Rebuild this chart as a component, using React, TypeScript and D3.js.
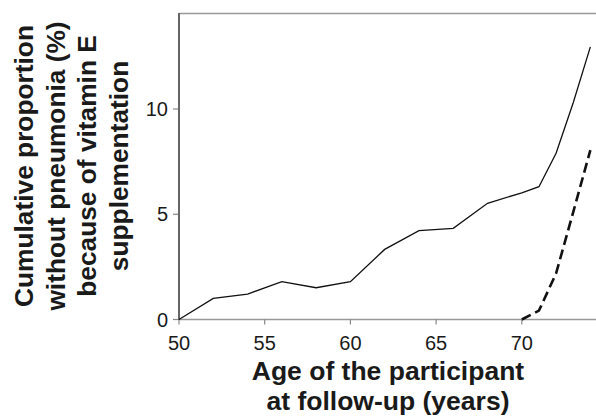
import React from "react";
import * as d3 from "d3";

const ages = [50, 52, 54, 56, 58, 60, 62, 64, 66, 68, 70, 71, 72, 73, 74];
const solidValues = [0, 1.0, 1.21, 1.8, 1.51, 1.8, 3.33, 4.22, 4.33, 5.52, 6.02, 6.31, 7.9, 10.3, 12.95];
const dashedAges = [70, 71, 72, 73, 74];
const dashedValues = [0, 0.42, 2.19, 5.1, 8.05];
const xTicks = [50, 55, 60, 65, 70];
const yTicks = [0, 5, 10];
const yLabelLines = ["Cumulative proportion", "without pneumonia (%)", "because of vitamin E", "supplementation"];
const xLabelLines = ["Age of the participant", "at follow-up (years)"];

const W = 596, H = 417;
const left = 179, right = 596, top = 13.5, bottom = 319.5;

export default function App() {
  const x = d3.scaleLinear().domain([50, 74]).range([left, left + 24 * 17.14]);
  const y = d3.scaleLinear().domain([0, 10]).range([bottom, bottom - 210.5]);
  const line = d3.line<[number, number]>().x(d => x(d[0])).y(d => y(d[1]));
  const solid = line(ages.map((a, i) => [a, solidValues[i]] as [number, number])) || "";
  const dashed = line(dashedAges.map((a, i) => [a, dashedValues[i]] as [number, number])) || "";
  const font = "'Liberation Sans', Arial, Helvetica, sans-serif";
  return (
    <svg width={W} height={H} style={{ position: "absolute", left: 0, top: 0, background: "#fff" }} fontFamily={font}>
      <line x1={left} x2={right} y1={top} y2={top} stroke="#999" strokeWidth={1.5} />
      <line x1={left} x2={right} y1={bottom} y2={bottom} stroke="#999" strokeWidth={1.5} />
      {xTicks.map(t => (
        <g key={"x" + t}>
          <line x1={x(t)} x2={x(t)} y1={bottom} y2={bottom + 5} stroke="#888" strokeWidth={1.2} />
          <text x={x(t)} y={349.5} textAnchor="middle" fontSize={20} fill="#1a1a1a">{t}</text>
        </g>
      ))}
      {yTicks.map(t => (
        <g key={"y" + t}>
          <line x1={left - 6} x2={left} y1={y(t)} y2={y(t)} stroke="#888" strokeWidth={1.2} />
          <text x={168} y={y(t)} dy="0.36em" textAnchor="end" fontSize={20} fill="#1a1a1a">{t}</text>
        </g>
      ))}
      <line x1={left} x2={left} y1={top - 0.5} y2={bottom + 0.5} stroke="#666" strokeWidth={2} />
      <path d={solid} fill="none" stroke="#111" strokeWidth={1.3} />
      <path d={dashed} fill="none" stroke="#111" strokeWidth={2.6} strokeDasharray="10,5" />
      {yLabelLines.map((s, i) => (
        <text key={s} transform={`translate(${33 + i * 31.7},166) rotate(-90)`} textAnchor="middle" fontSize={26.3} fontWeight="bold" fill="#1a1a1a">{s}</text>
      ))}
      {xLabelLines.map((s, i) => (
        <text key={s} x={388} y={380 + i * 30} textAnchor="middle" fontSize={26.5} fontWeight="bold" fill="#1a1a1a">{s}</text>
      ))}
    </svg>
  );
}
